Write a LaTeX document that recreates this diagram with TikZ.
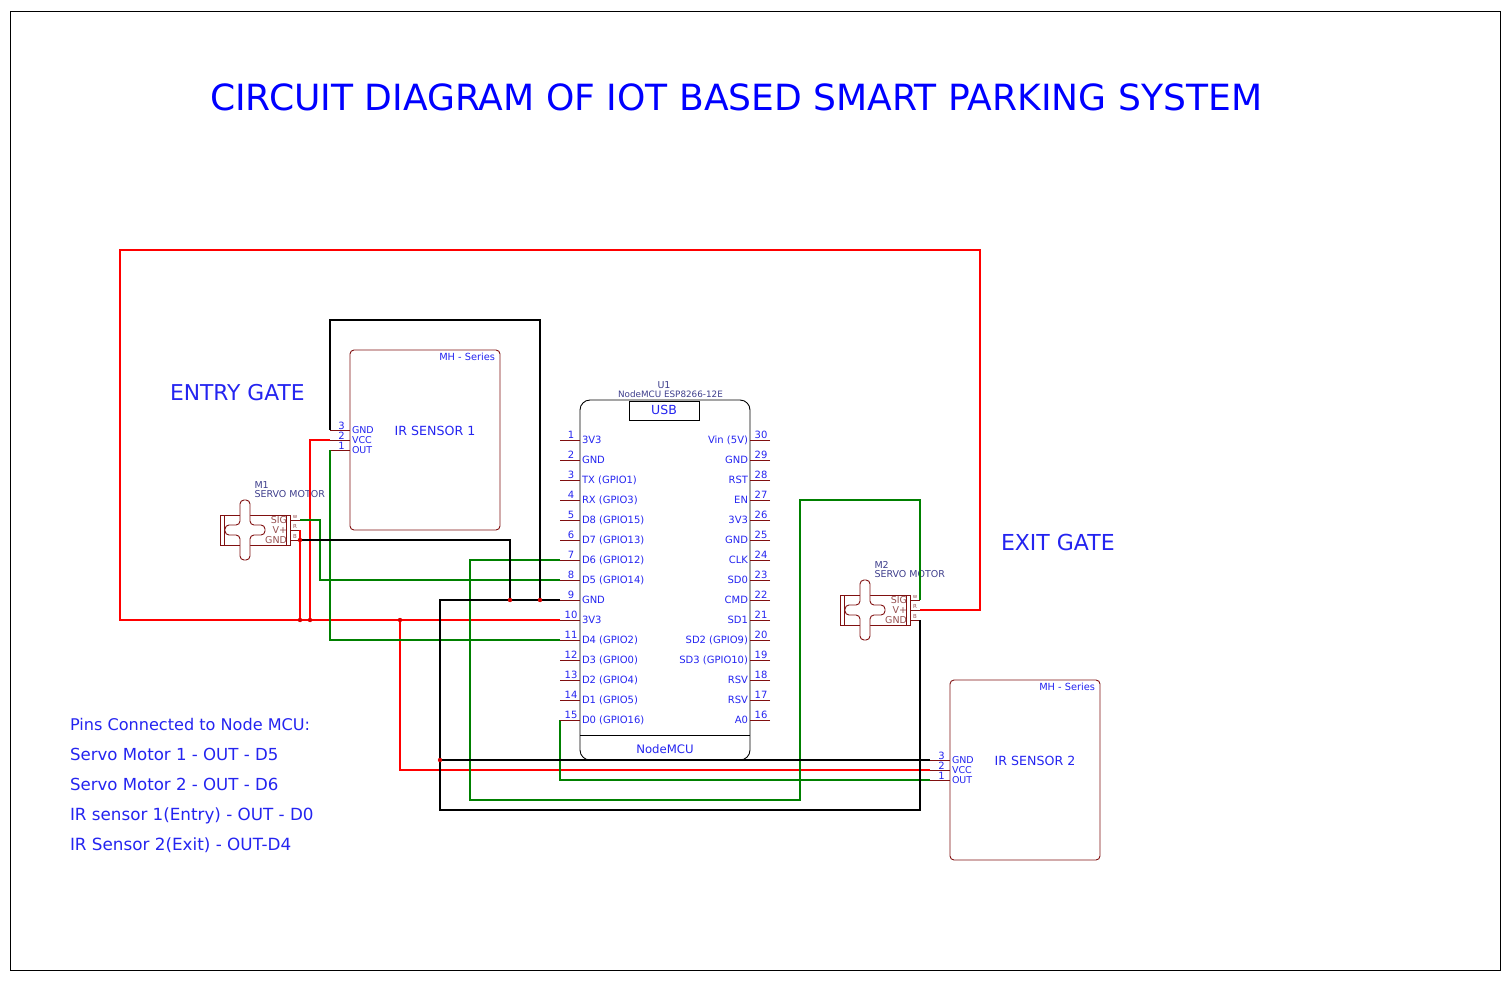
\documentclass[tikz,border=0pt]{standalone}
\usepackage{fontspec}
\setmainfont{DejaVu Sans}
\definecolor{pinred}{RGB}{128,16,16}
\definecolor{labelblue}{RGB}{36,36,240}
\definecolor{partgrey}{RGB}{62,62,140}
\definecolor{sigred}{RGB}{150,80,80}
\definecolor{wiregreen}{RGB}{0,128,0}
\tikzset{
  txt/.style={inner sep=0pt, outer sep=0pt, text=labelblue, font=\fontsize{#1}{#1}\selectfont},
  txt/.default=10,
  pinline/.style={draw=pinred, line width=0.9pt},
  redwire/.style={draw=red, line width=1.6pt},
  greenwire/.style={draw=wiregreen, line width=1.6pt},
  blackwire/.style={draw=black, line width=1.6pt},
  junction/.style={fill=red!85!black},
  % servo motor, origin at the top left of its case
  servo/.pic={
    \draw[pinred, line width=0.9pt] (0,0) rectangle (70,30);
    \draw[pinred, line width=0.9pt] (4,0) -- (4,30) (66,0) -- (66,30);
    \draw[pinred, line width=0.9pt, fill=white, rounded corners=4pt]
      (20,-15) -- (30,-15) -- (30,10) -- (45,10) -- (45,20) -- (30,20) -- (30,45)
      -- (20,45) -- (20,20) -- (5,20) -- (5,10) -- (20,10) -- cycle;
    \node[txt=9.5, text=partgrey, anchor=base west] (tag) at (34.5,-27) {#1};
    \node[txt=9.5, text=partgrey, anchor=base west] (kind) at (34.5,-18) {SERVO MOTOR};
    \foreach \pname/\plabel/\ptiny/\py in {sig/SIG/w/5, vcc/V+/R/15, gnd/GND/B/25} {
      \coordinate (\pname) at (80,\py);
      \draw[pinline] (70,\py) -- (80,\py);
      \node[txt=9.5, text=sigred, anchor=base east] (\pname t) at (67,\py+3.5) {\plabel};
      \node[txt=5.5, text=sigred, anchor=base] (\pname w) at (75,\py-1.5) {\ptiny};
    }
  },
  % IR sensor, origin at the top left of its body
  irsensor/.pic={
    \draw[pinred, line width=0.9pt, rounded corners=4pt] (0,0) rectangle (150,180);
    \node[txt=9.8, anchor=base east] (series) at (145,10) {MH - Series};
    \node[txt=12.6, anchor=base] (title) at (85,85.5) {IR SENSOR #1};
    \foreach \pname/\plabel/\pnum/\py in {gnd/GND/3/80, vcc/VCC/2/90, out/OUT/1/100} {
      \coordinate (\pname) at (-20,\py);
      \draw[pinline] (-20,\py) -- (0,\py);
      \node[txt=9.5, anchor=base west] (\pname t) at (2,\py+3.5) {\plabel};
      \node[txt=10, anchor=base] (\pname n) at (-8.5,\py-1) {\pnum};
    }
  }
}
\begin{document}
\begin{tikzpicture}[x=1pt, y=-1pt]
  \useasboundingbox (0,0) rectangle (1510,980);
  % frame
  \draw[black, line width=0.8pt] (10,11) rectangle (1500,970);

  % texts
  \node[txt=36.08, text=blue, anchor=base west] (heading) at (210,110) {CIRCUIT DIAGRAM OF IOT BASED SMART PARKING SYSTEM};
  \node[txt=21.8, anchor=base west] (entry) at (170,400) {ENTRY GATE};
  \node[txt=22, anchor=base west] (exit) at (1001,550) {EXIT GATE};
  \foreach \i/\s/\t/\y in {a/16.1/{Pins Connected to Node MCU:}/730, b/16.6/{Servo Motor 1 - OUT - D5}/760,
      c/16.6/{Servo Motor 2 - OUT - D6}/790, d/16.75/{IR sensor 1(Entry) - OUT - D0}/820, e/16.8/{IR Sensor 2(Exit) - OUT-D4}/850}
    \node[txt=\s, anchor=base west] (note\i) at (70,\y) {\t};

  % NodeMCU
  \node[draw=black, line width=0.9pt, rounded corners=10pt, minimum width=170pt, minimum height=360pt,
    inner sep=0pt, outer sep=0pt] (U1) at (665,580) {};
  \draw[black, line width=0.9pt] (580,735) -- (750,735);
  \draw[black, line width=0.9pt] (629.5,401) rectangle (699,420);
  \node[txt=12.5] (usb) at (664,409.5) {USB};
  \node[txt=11.7] (board) at (665,749.5) {NodeMCU};
  \node[txt=9.5, text=partgrey] (u1tag) at (664,385) {U1};
  \node[txt=8.8, text=partgrey] (u1kind) at (670.5,394) {NodeMCU ESP8266-12E};

  % wires
  \coordinate (nodeA) at (300,620);
  \coordinate (nodeB) at (310,620);
  \coordinate (nodeC) at (400,620);
  \coordinate (nodeD) at (510,600);
  \coordinate (nodeE) at (540,600);
  \coordinate (nodeF) at (440,760);
  \coordinate (nodeG) at (300,540);

  % pins of the board
  \foreach \n/\t [count=\i from 0] in {1/3V3, 2/GND, 3/TX (GPIO1), 4/RX (GPIO3), 5/D8 (GPIO15), 6/D7 (GPIO13),
      7/D6 (GPIO12), 8/D5 (GPIO14), 9/GND, 10/3V3, 11/D4 (GPIO2), 12/D3 (GPIO0), 13/D2 (GPIO4), 14/D1 (GPIO5), 15/D0 (GPIO16)} {
    \coordinate (p\n) at (560,440+20*\i);
    \node[txt=10, anchor=base west] (pt\n) at (582,443.5+20*\i) {\t};
  }
  \foreach \n/\t [count=\i from 0] in {30/Vin (5V), 29/GND, 28/RST, 27/EN, 26/3V3, 25/GND, 24/CLK, 23/SD0, 22/CMD,
      21/SD1, 20/SD2 (GPIO9), 19/SD3 (GPIO10), 18/RSV, 17/RSV, 16/A0} {
    \coordinate (p\n) at (770,440+20*\i);
    \node[txt=10, anchor=base east] (pt\n) at (748,443.5+20*\i) {\t};
  }

  % parts
  \pic (m1) at (220,515) {servo=M1};
  \pic (m2) at (840,595) {servo=M2};
  \pic (ira) at (350,350) {irsensor=1};
  \pic (irb) at (950,680) {irsensor=2};

  % red wires
  \draw[redwire] (m2vcc) -- (980,610) -- (980,250) -- (120,250) -- (120,620) -- (p10);
  \draw[redwire] (nodeB) -- (310,440) -- (iravcc);
  \draw[redwire] (nodeA) -- (m1vcc);
  \draw[redwire] (nodeC) -- (400,770) -- (irbvcc);
  % green wires
  \draw[greenwire] (m1sig) -- (320,520) -- (320,580) -- (p8);
  \draw[greenwire] (iraout) -- (330,640) -- (p11);
  \draw[greenwire] (p7) -- (470,560) -- (470,800) -- (800,800) -- (800,500) -- (920,500) -- (m2sig);
  \draw[greenwire] (p15) -- (560,780) -- (irbout);
  % black wires
  \draw[blackwire] (iragnd) -- (330,320) -- (540,320) -- (nodeE);
  \draw[blackwire] (nodeG) -- (510,540) -- (nodeD);
  \draw[blackwire] (p9) -- (440,600) -- (440,810) -- (920,810) -- (920,620) -- (m2gnd);
  \draw[blackwire] (nodeF) -- (irbgnd);

  % junctions
  \foreach \j in {nodeA, nodeB, nodeC, nodeD, nodeE, nodeF, nodeG}
    \fill[junction] (\j) circle (2.2pt);

  % stubs of the pins, over the wires
  \foreach \n [count=\i from 0] in {1,...,15} {
    \draw[pinline] (p\n) -- (580,440+20*\i);
    \node[txt=10, anchor=base] (pn\n) at (571,438.5+20*\i) {\n};
  }
  \foreach \n [count=\i from 0] in {30,29,...,16} {
    \draw[pinline] (p\n) -- (750,440+20*\i);
    \node[txt=10, anchor=base] (pn\n) at (761,438.5+20*\i) {\n};
  }
\end{tikzpicture}
\end{document}
